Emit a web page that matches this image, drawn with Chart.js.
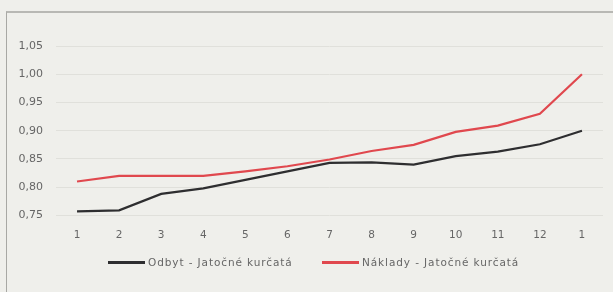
<!DOCTYPE html>
<html><head><meta charset="utf-8">
<script src="https://cdn.jsdelivr.net/npm/chart.js@4/dist/chart.umd.min.js"></script>
<style>
html,body{margin:0;padding:0;background:#eeeeea;}
#wrap{position:relative;width:613px;height:292px;overflow:hidden;background:#efefeb;}
#frame{position:absolute;left:6px;top:11px;width:640px;height:300px;border-left:1px solid #a8a8a4;border-top:2px solid #b8b8b4;}
canvas{position:absolute;left:0;top:0;}
.lg{position:absolute;top:255px;height:14px;line-height:14px;font-family:'DejaVu Sans';font-size:10.5px;letter-spacing:0.9px;color:#666;white-space:nowrap;}
.sw{position:absolute;height:2.5px;top:261px;}
</style></head><body>
<div id="wrap"><div id="frame"></div><canvas id="c" width="613" height="292"></canvas>
<div id="legend"></div></div>
<script>
const categories = ["1","2","3","4","5","6","7","8","9","10","11","12","1"];
const odbyt = [0.757,0.759,0.788,0.798,0.813,0.828,0.843,0.844,0.840,0.855,0.863,0.876,0.900];
const naklady = [0.810,0.820,0.820,0.820,0.828,0.837,0.849,0.864,0.875,0.898,0.909,0.930,1.000];
const seriesNames = ["Odbyt - Jatočné kurčatá","Náklady - Jatočné kurčatá"];
const seriesColors = ['#2e2e30','#e0484e'];
const yMin = 0.75, yMax = 1.05, yStep = 0.05;

const chart = new Chart(document.getElementById('c'), {
  type: 'line',
  data: {
    labels: categories,
    datasets: [
      {label: seriesNames[0], data: odbyt, borderColor: seriesColors[0], borderWidth: 2.2, pointRadius: 0, tension: 0},
      {label: seriesNames[1], data: naklady, borderColor: seriesColors[1], borderWidth: 2.2, pointRadius: 0, tension: 0}
    ]
  },
  options: {
    responsive: false, animation: false,
    layout: {padding: {left: 0, right: 10, top: 46, bottom: 44}},
    plugins: {legend: {display: false}, tooltip: {enabled: false}},
    scales: {
      x: {
        offset: true,
        grid: {display: false},
        border: {display: false},
        ticks: {color: '#666', font: {family: 'DejaVu Sans', size: 10.5}, padding: 6, maxRotation: 0, autoSkip: false}
      },
      y: {
        min: yMin, max: yMax,
        afterFit: s => { s.width = 56; },
        grid: {color: '#e0e0db', lineWidth: 1, drawTicks: false},
        border: {display: false},
        ticks: {stepSize: yStep, padding: 13, color: '#666', font: {family: 'DejaVu Sans', size: 11},
          callback: v => v.toFixed(2).replace('.', ',')}
      }
    }
  }
});

// HTML legend built from the dataset names/colours
const lg = document.getElementById('legend');
const pos = [{sw: 108, tx: 148}, {sw: 322, tx: 362}];
chart.data.datasets.forEach((d, i) => {
  const s = document.createElement('div');
  s.className = 'sw'; s.style.left = pos[i].sw + 'px'; s.style.width = '37px'; s.style.background = d.borderColor;
  const t = document.createElement('div');
  t.className = 'lg'; t.style.left = pos[i].tx + 'px'; t.textContent = d.label;
  lg.appendChild(s); lg.appendChild(t);
});
</script></body></html>
